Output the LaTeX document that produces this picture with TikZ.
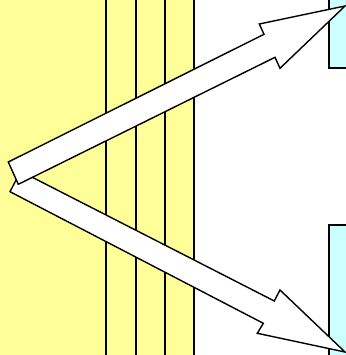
\documentclass[tikz,border=0pt]{standalone}
\definecolor{paleyellow}{RGB}{255,255,153}
\definecolor{palecyan}{RGB}{204,255,255}
\tikzset{
  outline/.style={draw=black, line width=1.4pt, line join=miter},
  bigarrow/.style={outline, fill=white},
  divider/.style={draw=black, line width=1.6pt}
}
\begin{document}
\begin{tikzpicture}[x=1pt,y=-1pt]
\useasboundingbox (0,0) rectangle (345,355);
% yellow band
\fill[paleyellow] (-5,-5) rectangle (194,360);
\foreach \x in {106,136,165,194} \draw[divider] (\x,-5) -- (\x,360);
% cyan boxes on the right
\filldraw[outline, fill=palecyan] (329,-5) rectangle (360,68);
\filldraw[outline, fill=palecyan] (329,225) rectangle (360,360);
% lower arrow
\filldraw[bigarrow] (10,191.7) -- (263.3,323.3) -- (257.3,333.3) -- (345,352)
  -- (280,290) -- (274.3,301) -- (20.6,171.3) -- cycle;
% upper arrow
\filldraw[bigarrow] (8.3,162) -- (264,34.3) -- (259.3,24) -- (345,6)
  -- (280,68.3) -- (275,57.3) -- (18.3,184.3) -- cycle;
\end{tikzpicture}
\end{document}
